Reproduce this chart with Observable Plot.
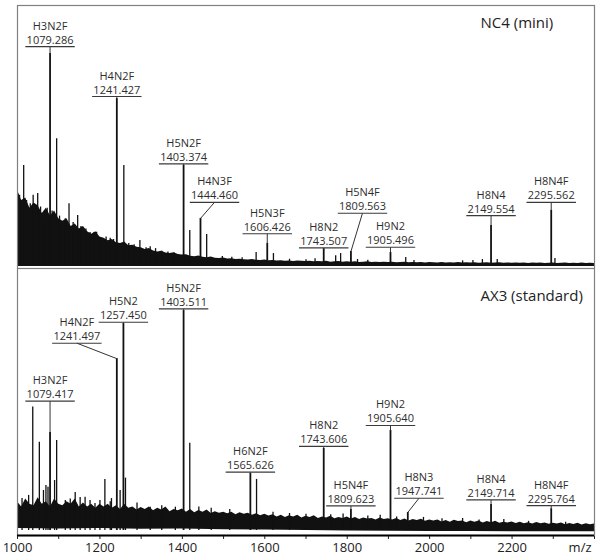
<!DOCTYPE html>
<html><head><meta charset="utf-8">
<script src="https://cdn.jsdelivr.net/npm/d3@7"></script>
<script src="https://cdn.jsdelivr.net/npm/@observablehq/plot@0.6"></script>
<style>
body{margin:0;background:#fff;font-family:"Open Sans",sans-serif;}
#chart{width:601px;height:560px;}
#chart svg{display:block;}
</style></head><body><div id="chart"></div>
<script>
// ---------- shared x axis ----------
const xDomain = [1000, 2400];
const xTicks = [1000,1100,1200,1300,1400,1500,1600,1700,1800,1900,2000,2100,2200,2300,2400];
const xTickLabels = ["1000","","1200","","1400","","1600","","1800","","2000","","2200","",""];
const xAxisTitle = "m/z";

// noise envelope sampling (m/z)
const noiseMz = [1000,1010,1020,1030,1040,1050,1060,1070,1080,1090,1100,
1110,1120,1130,1140,1150,1160,1170,1180,1190,1200,
1210,1220,1230,1240,1250,1260,1270,1280,1290,1300,
1310,1320,1330,1340,1350,1360,1370,1380,1390,1400,
1410,1420,1430,1440,1450,1460,1470,1480,1490,1500,
1510,1520,1530,1540,1550,1560,1570,1580,1590,1600,
1610,1620,1630,1640,1650,1660,1670,1680,1690,1700,
1710,1720,1730,1740,1750,1760,1770,1780,1790,1800,
1810,1820,1830,1840,1850,1860,1870,1880,1890,1900,
1910,1920,1930,1940,1950,1960,1970,1980,1990,2000,
2010,2020,2030,2040,2050,2060,2070,2080,2090,2100,
2110,2120,2130,2140,2150,2160,2170,2180,2190,2200,
2210,2220,2230,2240,2250,2260,2270,2280,2290,2300,
2310,2320,2330,2340,2350,2360,2370,2380,2390,2400];

// ---------- top panel: NC4 (mini) ----------
const topTitle = "NC4 (mini)";
const topNames  = ["H3N2F","H4N2F","H5N2F","H4N3F","H5N3F","H8N2","H5N4F","H9N2","H8N4","H8N4F"];
const topMasses = ["1079.286","1241.427","1403.374","1444.460","1606.426","1743.507","1809.563","1905.496","2149.554","2295.562"];
const topPeakMz  = [1079,1241,1403,1444,1606,1743,1809,1905,2149,2295];
const topPeakInt = [81.5,64.2,38.6,18.1,8.5,6.5,5.4,5.0,15.4,21.2];
const topLabelMz  = [1079,1241,1403,1478,1606,1743,1837,1905,2149,2295];
const topLabelInt = [84.2,65.0,39.1,24.3,12.2,6.8,20.1,7.0,19.2,24.3];
const topSpikeMz  = [1005,1015,1022,1031,1038,1049,1056,1065,1072,1084,1095,1102,1107,1116,1125,1135,1146,1154,1166,1176,1185,1192,1200,1215,1225,1233,1258,1270,1283,1297,1312,1322,1335,1350,1365,1380,1418,1459,1497,1520,1545,1579,1621,1660,1700,1722,1772,1784,1825,1850,1942,1962,2080,2105,2128,2164,2304];
const topSpikeInt = [27,38.5,25,23.8,27,27.7,22.5,18.5,22,21,48.8,19,15.4,18,23.8,16.5,19.2,15,14,12.7,12.5,12.8,10.4,11,10.5,10,38.5,8.5,8,9.6,6.8,7.2,6.5,5.5,5.2,4.8,13.5,11.9,3.5,3.2,3.0,5.0,4.6,2.4,2.2,2.6,3.8,4.6,2.3,2.0,3.1,1.9,1.8,1.9,2.3,2.3,2.7];
const topNoise = [29,25,26,22,24,23,20,22,19,21,18,
17,18,15,16,14,15,13,12,13,11,
10.5,9.5,10,8.8,8.5,9,7.6,7.8,7,6.8,
6.2,6.5,5.6,5.2,5.5,4.8,4.6,4.9,4.2,4.0,
4.1,3.6,3.4,3.7,3.2,3.0,3.3,2.8,2.7,2.9,
2.5,2.6,2.3,2.4,2.2,2.1,2.3,2.0,1.9,2.1,
1.8,1.9,1.7,1.8,1.6,1.7,1.5,1.7,1.6,1.5,
1.6,1.4,1.5,1.4,1.6,1.3,1.4,1.5,1.3,1.4,
1.3,1.4,1.2,1.3,1.4,1.2,1.3,1.2,1.3,1.2,
1.3,1.1,1.2,1.3,1.1,1.2,1.1,1.2,1.0,1.2,
1.1,1.0,1.2,1.0,1.1,1.0,1.2,1.0,1.1,1.0,
1.1,0.9,1.0,1.1,0.9,1.0,1.1,0.9,1.0,0.9,
1.0,0.9,1.0,0.8,1.0,0.9,1.0,0.8,0.9,1.0,
0.8,0.9,1.0,0.8,0.9,0.8,1.0,0.8,0.9,0.8];
const topNoiseFloor = -0.4;
const topYDomain = [-1.15, 100];

// ---------- bottom panel: AX3 (standard) ----------
const botTitle = "AX3 (standard)";
const botNames  = ["H3N2F","H4N2F","H5N2","H5N2F","H6N2F","H8N2","H5N4F","H9N2","H8N3","H8N4","H8N4F"];
const botMasses = ["1079.417","1241.497","1257.450","1403.511","1565.626","1743.606","1809.623","1905.640","1947.741","2149.714","2295.764"];
const botPeakMz  = [1079,1241,1257,1403,1565,1743,1809,1905,1947,2149,2295];
const botPeakInt = [37.4,65.6,79.0,84.0,21.8,31.3,8.0,38.2,6.9,9.9,8.3];
const botLabelMz  = [1079,1144,1257,1403,1565,1743,1809,1905,1974,2149,2295];
const botLabelInt = [49.4,71.5,79.5,84.6,22.3,32.1,9.4,40.1,12.3,11.7,9.5];
const botSpikeMz  = [1011,1027,1037,1053,1063,1069,1074,1090,1095,1116,1128,1140,1152,1164,1176,1188,1200,1212,1225,1228,1249,1262,1290,1322,1350,1383,1418,1440,1470,1515,1580,1620,1660,1700,1760,1790,1850,1880,1920,1985,2030,2080,2120,2180,2240,2330];
const botSpikeInt = [12.2,13.4,47.1,33.7,15.3,17.2,16.5,19.1,34.4,11.5,12,14.5,12.6,12.7,11.5,10.3,11.5,19.5,11,12.2,15.3,20,10.5,8.9,9.5,8.9,33.3,9,8.5,8,19.5,7,6.5,6.2,6,6.3,5.5,5.8,5.2,5,4.5,4.6,4,4.2,3.5,3.2];
const botNoise = [11,9,12,10,9.5,12.5,10,11,9,12,10,
9.5,11,10,12,9,10.5,9,10,8.5,10,
9,10,8.5,9.5,8,10,8.5,9,7.8,8.8,
8,9,7.5,8.5,7.8,9,7.2,8,7.5,8.2,
7,8,6.8,7.6,7,7.8,6.5,7.2,6.6,7,
6.4,7,6,6.8,6.2,6.6,5.8,6.4,5.6,6.2,
5.5,6,5.2,5.8,5,5.6,5.2,5.8,4.8,5.4,
5,5.6,4.6,5.2,4.8,5.4,4.5,5,4.6,5.2,
4.4,5,4.2,4.8,4.4,4.6,4,4.8,4.2,4.5,
4,4.6,3.8,4.4,3.6,4.2,3.8,4.3,3.5,4,
3.6,4,3.3,3.8,3.2,3.9,3.4,3.6,3,3.6,
3.2,3.6,2.9,3.4,3,3.5,2.8,3.2,2.9,3.3,
2.7,3.2,2.6,3,2.5,3.1,2.6,2.9,2.4,2.8,
2.5,2.9,2.2,2.7,2.3,2.8,2.1,2.6,2.2,2.5];
const botFloorMz = [1000,1100,1200,1300,1400,1500,1600,1700,1800,1900,2000,2100,2200,2300,2400];
const botFloor   = [0.8,0.6,0.8,0.5,0.6,0.3,0.2,0,-0.2,-0.3,-0.4,-0.4,-0.5,-0.5,-0.5];
const botYDomain = [-1.9, 100];

const font = "'Open Sans', 'DejaVu Sans', sans-serif";

function panelMarks(p) {
  const ann = p.names.map((n, i) => ({name: n, mass: p.masses[i], pmz: p.peakMz[i], pint: p.peakInt[i], lmz: p.labelMz[i], lint: p.labelInt[i]}));
  const noise = noiseMz.map((m, i) => ({mz: m, hi: p.noise[i]}));
  const spikes = p.spikeMz.map((m, i) => ({mz: m, v: p.spikeInt[i]}));
  const marks = [
    Plot.areaY(noise, {x: "mz", y1: p.noiseBase, y2: "hi", fill: "#111"})
  ];
  if (p.floorMz) {
    const floor = p.floorMz.map((m, i) => ({mz: m, f: p.floor[i]}));
    marks.push(Plot.areaY(floor, {x: "mz", y1: p.yDomain[0], y2: "f", fill: "#fff"}));
  }
  marks.push(
    Plot.ruleX(spikes, {x: "mz", y1: 0, y2: "v", stroke: "#111", strokeWidth: 1.3}),
    Plot.ruleX(ann, {x: "pmz", y1: 0, y2: "pint", stroke: "#111", strokeWidth: 1.8}),
    Plot.link(ann, {x1: "lmz", y1: "lint", x2: "pmz", y2: "pint", stroke: "#333", strokeWidth: 1}),
    Plot.link(ann, {x1: d => d.lmz - 60, x2: d => d.lmz + 60, y1: "lint", y2: "lint", stroke: "#3a3a3a", strokeWidth: 1.1}),
    Plot.text(ann, {x: "lmz", y: "lint", text: "mass", dy: -3, lineAnchor: "bottom", fontSize: 11, fill: "#2e2e2e"}),
    Plot.text(ann, {x: "lmz", y: "lint", text: "name", dy: -17, lineAnchor: "bottom", fontSize: 11, fill: "#2e2e2e"}),
    Plot.text([p.title], {frameAnchor: "top-left", textAnchor: "start", lineAnchor: "bottom", dx: 463, dy: p.titleDy, fontSize: 15, fill: "#222"}),
    Plot.frame({stroke: "#808080", strokeWidth: 1.2})
  );
  return marks;
}

const topSvg = Plot.plot({
  width: 601, height: 268,
  marginLeft: 17, marginRight: 7, marginTop: 5, marginBottom: 0,
  style: {fontFamily: font, background: "#fff"},
  x: {domain: xDomain, axis: null},
  y: {domain: topYDomain, axis: null},
  marks: panelMarks({
    title: topTitle, titleDy: 22,
    names: topNames, masses: topMasses, peakMz: topPeakMz, peakInt: topPeakInt,
    labelMz: topLabelMz, labelInt: topLabelInt,
    spikeMz: topSpikeMz, spikeInt: topSpikeInt,
    noise: topNoise, noiseBase: topNoiseFloor, yDomain: topYDomain
  })
});

const botMarks = panelMarks({
  title: botTitle, titleDy: 32,
  names: botNames, masses: botMasses, peakMz: botPeakMz, peakInt: botPeakInt,
  labelMz: botLabelMz, labelInt: botLabelInt,
  spikeMz: botSpikeMz, spikeInt: botSpikeInt,
  noise: botNoise, noiseBase: botYDomain[0], yDomain: botYDomain,
  floorMz: botFloorMz, floor: botFloor
});
botMarks.push(
  Plot.ruleY([botYDomain[0]], {stroke: "#000", strokeWidth: 2}),
  Plot.text([xAxisTitle], {x: xDomain[1], frameAnchor: "bottom", textAnchor: "end", lineAnchor: "top", dy: 7, dx: -3, fontSize: 13, fill: "#222"})
);

const botSvg = Plot.plot({
  width: 601, height: 292,
  marginLeft: 17, marginRight: 7, marginTop: 0, marginBottom: 25,
  style: {fontFamily: font, fontSize: "13px", background: "#fff", color: "#222"},
  x: {domain: xDomain, ticks: xTicks, tickFormat: (d) => xTickLabels[xTicks.indexOf(d)], tickSize: 4, tickPadding: 3},
  y: {domain: botYDomain, axis: null},
  marks: botMarks
});

const host = document.getElementById("chart");
host.append(topSvg, botSvg);
</script></body></html>
